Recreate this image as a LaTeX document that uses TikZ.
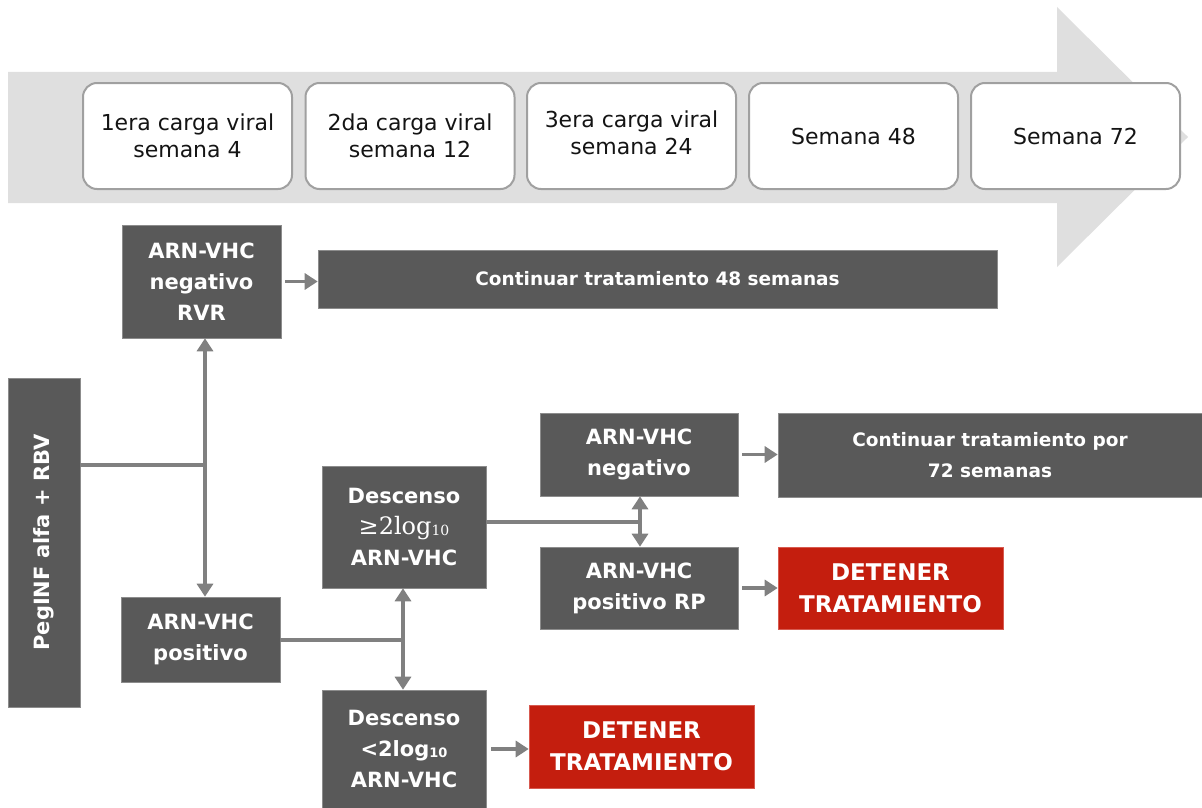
\documentclass[tikz,border=0pt]{standalone}
\usepackage{fontspec}
\setmainfont{DejaVu Sans}
\newfontfamily\serifx{DejaVu Serif}
\usetikzlibrary{arrows.meta}
\definecolor{bgarrow}{RGB}{223,223,223}
\definecolor{darkbox}{RGB}{89,89,89}
\definecolor{conn}{RGB}{128,128,128}
\definecolor{redbox}{RGB}{196,30,14}
\definecolor{wborder}{RGB}{160,160,160}
\definecolor{txt}{RGB}{20,20,20}
\tikzset{
  wbox/.style={draw=wborder, line width=2pt, fill=white, rounded corners=14pt,
    minimum width=209pt, minimum height=106pt, inner sep=0pt, align=center,
    text=txt, font=\fontsize{22}{27}\selectfont},
  dbox/.style={fill=darkbox, draw={rgb,255:red,140;green,140;blue,140}, line width=0.6pt,
    inner sep=0pt, align=center, text=white,
    font=\fontsize{21}{31}\selectfont\bfseries},
  rbox/.style={fill=redbox, draw={rgb,255:red,215;green,90;blue,80}, line width=0.6pt,
    inner sep=0pt, align=center, text=white,
    font=\fontsize{23}{32}\selectfont\bfseries},
  cline/.style={draw=conn, line width=3.6pt},
  arr/.style={cline, -{Triangle[width=16pt,length=13pt]}},
}
\begin{document}
\begin{tikzpicture}[x=1pt,y=-1pt]
\useasboundingbox (0,0) rectangle (1202,808);
% timeline arrow
\fill[bgarrow] (8,72) -- (1057,72) -- (1057,7) -- (1188,137) -- (1057,267) -- (1057,203) -- (8,203) -- cycle;
\node[wbox] (w1) at (187.5,136) {1era carga viral\\semana 4};
\node[wbox] (w2) at (410,136) {2da carga viral\\semana 12};
\node[wbox, text depth=6pt] (w3) at (631.5,136) {3era carga viral\\semana 24};
\node[wbox] (w4) at (853.5,136) {Semana 48};
\node[wbox] (w5) at (1075.5,136) {Semana 72};
% dark boxes
\node[dbox, minimum width=159pt, minimum height=113pt] (rvr) at (201.5,281.5) {ARN-VHC\\negativo\\RVR};
\node[dbox, minimum width=679pt, minimum height=58pt, font=\fontsize{18.5}{31}\selectfont\bfseries] (c48) at (657.5,279) {Continuar tratamiento 48 semanas};
\node[dbox, minimum width=329pt, minimum height=72pt, rotate=90, font=\fontsize{21}{31}\selectfont\bfseries] (peg) at (44,542.5) {PegINF alfa + RBV};
\node[dbox, minimum width=159pt, minimum height=85pt] (pos) at (200.5,639.5) {ARN-VHC\\positivo};
\node[dbox, minimum width=164pt, minimum height=122pt] (d1) at (404,527) {Descenso\\{\serifx\mdseries\fontsize{24}{31}\selectfont ≥2log\raisebox{-1pt}{\fontsize{14}{14}\selectfont 10}}\\ARN-VHC};
\node[dbox, minimum width=198pt, minimum height=83pt] (neg2) at (639,454.5) {ARN-VHC\\negativo};
\node[dbox, minimum width=198pt, minimum height=82pt] (rp) at (639,588) {ARN-VHC\\positivo RP};
\node[dbox, minimum width=424pt, minimum height=84pt, font=\fontsize{18.5}{31}\selectfont\bfseries] (c72) at (990,455) {Continuar tratamiento por\\72 semanas};
\node[rbox, minimum width=225pt, minimum height=82pt] (det1) at (890.5,588) {DETENER\\TRATAMIENTO};
\node[dbox, minimum width=164pt, minimum height=118pt] (d2) at (404,749) {Descenso\\<2log\raisebox{-1pt}{\fontsize{13}{13}\selectfont 10}\\ARN-VHC};
\node[rbox, minimum width=225pt, minimum height=83pt] (det2) at (641.5,746.5) {DETENER\\TRATAMIENTO};
% junctions
\coordinate (j1) at (205,465);
\coordinate (j2) at (403,640);
\coordinate (j3) at (640,522);
% connectors
\draw[cline] ([xshift=36pt]peg.center |- j1) -- (j1);
\draw[arr] (j1) -- (j1 |- rvr.south);
\draw[arr] (j1) -- (j1 |- pos.north);
\draw[arr, shorten <=4pt] (rvr.east) -- (rvr.east -| c48.west);
\draw[cline] (pos.east |- j2) -- (j2);
\draw[arr] (j2) -- (j2 |- d1.south);
\draw[arr] (j2) -- (j2 |- d2.north);
\draw[cline] (d1.east |- j3) -- (j3);
\draw[arr] (j3) -- (j3 |- neg2.south);
\draw[arr] (j3) -- (j3 |- rp.north);
\draw[arr, shorten <=4pt] (neg2.east) -- (neg2.east -| c72.west);
\draw[arr, shorten <=4pt] (rp.east) -- (rp.east -| det1.west);
\draw[arr, shorten <=5pt] (d2.east) -- (d2.east -| det2.west);
\end{tikzpicture}
\end{document}
